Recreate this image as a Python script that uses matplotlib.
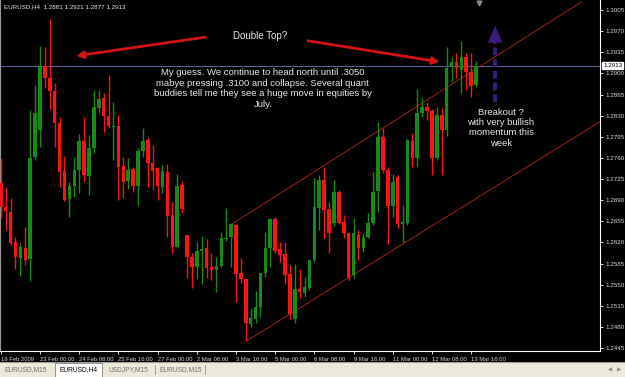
import numpy as np
import matplotlib.pyplot as plt
import matplotlib.transforms as mtransforms
from matplotlib.patches import Rectangle

plt.rcParams['font.family'] = ['Liberation Sans', 'DejaVu Sans']

# ───────── DATA: EURUSD H4, 19 Feb 2009 16:00 .. 13 Mar 2009 20:00 ─────────
opens = [1.2718, 1.2679, 1.2670, 1.2621, 1.2594, 1.2611, 1.2592, 1.2762, 1.2806, 1.2912,
         1.2892, 1.2871, 1.2818, 1.2738, 1.2692, 1.2713, 1.2740, 1.2788, 1.2730, 1.2776,
         1.2843, 1.2859, 1.2829, 1.2811, 1.2813, 1.2747, 1.2722, 1.2742, 1.2713, 1.2771,
         1.2790, 1.2752, 1.2743, 1.2712, 1.2737, 1.2665, 1.2612, 1.2715, 1.2632, 1.2596,
         1.2579, 1.2606, 1.2611, 1.2579, 1.2574, 1.2581, 1.2625, 1.2629, 1.2649, 1.2569,
         1.2559, 1.2485, 1.2493, 1.2513, 1.2569, 1.2611, 1.2659, 1.2609, 1.2601, 1.2568,
         1.2493, 1.2543, 1.2536, 1.2545, 1.2591, 1.2677, 1.2723, 1.2675, 1.2652, 1.2704,
         1.2654, 1.2636, 1.2566, 1.2632, 1.2611, 1.2629, 1.2652, 1.2705, 1.2795, 1.2740,
         1.2680, 1.2728, 1.2650, 1.2652, 1.2788, 1.2760, 1.2834, 1.2844, 1.2838, 1.2760,
         1.2831, 1.2806, 1.2911, 1.2919, 1.2906, 1.2927, 1.2902, 1.2881]
highs = [1.2760, 1.2712, 1.2694, 1.2629, 1.2619, 1.2645, 1.2839, 1.2881, 1.2945, 1.2944,
         1.2990, 1.2884, 1.2828, 1.2763, 1.2720, 1.2762, 1.2800, 1.2828, 1.2798, 1.2873,
         1.2873, 1.2867, 1.2897, 1.2853, 1.2831, 1.2762, 1.2760, 1.2745, 1.2776, 1.2810,
         1.2795, 1.2781, 1.2745, 1.2748, 1.2750, 1.2687, 1.2733, 1.2722, 1.2633, 1.2602,
         1.2621, 1.2631, 1.2626, 1.2602, 1.2596, 1.2637, 1.2677, 1.2652, 1.2650, 1.2594,
         1.2560, 1.2511, 1.2540, 1.2570, 1.2637, 1.2661, 1.2662, 1.2621, 1.2621, 1.2583,
         1.2584, 1.2576, 1.2563, 1.2593, 1.2727, 1.2732, 1.2745, 1.2687, 1.2723, 1.2707,
         1.2665, 1.2637, 1.2660, 1.2640, 1.2636, 1.2669, 1.2737, 1.2820, 1.2810, 1.2745,
         1.2733, 1.2732, 1.2682, 1.2792, 1.2801, 1.2874, 1.2859, 1.2853, 1.2841, 1.2844,
         1.2843, 1.2944, 1.2927, 1.2934, 1.2954, 1.2934, 1.2934, 1.2921]
lows = [1.2660, 1.2640, 1.2616, 1.2576, 1.2564, 1.2583, 1.2556, 1.2756, 1.2778, 1.2876,
        1.2841, 1.2778, 1.2712, 1.2688, 1.2662, 1.2695, 1.2702, 1.2720, 1.2698, 1.2768,
        1.2834, 1.2803, 1.2810, 1.2757, 1.2690, 1.2694, 1.2708, 1.2704, 1.2682, 1.2762,
        1.2712, 1.2707, 1.2690, 1.2702, 1.2629, 1.2602, 1.2611, 1.2669, 1.2561, 1.2544,
        1.2559, 1.2551, 1.2561, 1.2558, 1.2538, 1.2579, 1.2622, 1.2579, 1.2521, 1.2553,
        1.2457, 1.2480, 1.2486, 1.2496, 1.2563, 1.2579, 1.2602, 1.2588, 1.2551, 1.2493,
        1.2486, 1.2528, 1.2530, 1.2541, 1.2588, 1.2640, 1.2627, 1.2602, 1.2647, 1.2650,
        1.2627, 1.2558, 1.2561, 1.2591, 1.2604, 1.2627, 1.2649, 1.2670, 1.2735, 1.2617,
        1.2662, 1.2644, 1.2621, 1.2649, 1.2745, 1.2745, 1.2828, 1.2823, 1.2732, 1.2757,
        1.2732, 1.2796, 1.2886, 1.2892, 1.2867, 1.2873, 1.2861, 1.2877]
closes = [1.2679, 1.2672, 1.2619, 1.2596, 1.2612, 1.2591, 1.2760, 1.2834, 1.2911, 1.2892,
          1.2871, 1.2818, 1.2737, 1.2690, 1.2713, 1.2740, 1.2788, 1.2732, 1.2776, 1.2844,
          1.2858, 1.2829, 1.2813, 1.2813, 1.2745, 1.2720, 1.2740, 1.2713, 1.2771, 1.2788,
          1.2752, 1.2738, 1.2713, 1.2738, 1.2664, 1.2612, 1.2713, 1.2675, 1.2596, 1.2579,
          1.2606, 1.2609, 1.2578, 1.2574, 1.2581, 1.2627, 1.2628, 1.2650, 1.2568, 1.2559,
          1.2486, 1.2495, 1.2513, 1.2569, 1.2611, 1.2659, 1.2606, 1.2599, 1.2566, 1.2501,
          1.2543, 1.2538, 1.2546, 1.2591, 1.2679, 1.2723, 1.2674, 1.2636, 1.2704, 1.2652,
          1.2636, 1.2561, 1.2636, 1.2611, 1.2627, 1.2652, 1.2704, 1.2795, 1.2740, 1.2680,
          1.2720, 1.2650, 1.2654, 1.2789, 1.2760, 1.2834, 1.2844, 1.2838, 1.2760, 1.2831,
          1.2806, 1.2909, 1.2919, 1.2909, 1.2927, 1.2902, 1.2879, 1.2913]

price_ticks = [1.2445, 1.2480, 1.2515, 1.2550, 1.2585, 1.2620, 1.2655, 1.2690, 1.2725,
               1.2760, 1.2795, 1.2830, 1.2865, 1.2900, 1.2935, 1.2970, 1.3005]
time_tick_bars = [0, 8, 16, 24, 32, 40, 48, 56, 64, 72, 80, 88, 96]
time_tick_labels = ['19 Feb 2009', '23 Feb 00:00', '24 Feb 08:00', '25 Feb 16:00',
                    '27 Feb 00:00', '2 Mar 08:00', '3 Mar 16:00', '5 Mar 00:00',
                    '6 Mar 08:00', '9 Mar 16:00', '11 Mar 00:00', '12 Mar 08:00',
                    '13 Mar 16:00']
bid_price = 1.2913

# channel lines: (bar, price) end points
upper_channel = [(47.1, 1.2650), (118.6, 1.3019)]
lower_channel = [(50.2, 1.2457), (122.3, 1.2820)]

tabs = ['EURUSD,M15', 'EURUSD,H4', 'USDJPY,M15', 'EURUSD,M15']
# ──────────────────────────

BULL = '#158c15'
BEAR = '#ff1212'
TXT = '#e8e8e8'
W, H = 625, 377

fig = plt.figure(figsize=(W / 100, H / 100), dpi=100, facecolor='black')
ax = fig.add_axes([0, 1 - 351 / H, 600 / W, 351 / H], facecolor='black')
ax.set_xlim(-0.16, 122.3)
ax.set_ylim(1.24401, 1.30216)

# ─── candles ───
x = np.arange(len(opens))
o, hi, lo, c = map(np.array, (opens, highs, lows, closes))
cols = np.where(c >= o, BULL, BEAR)
ax.vlines(x, lo, hi, colors=cols, lw=1.0, zorder=3)
ax.bar(x, np.maximum(np.abs(c - o), 0.00008), bottom=np.minimum(o, c),
       width=0.72, color=cols, lw=0, zorder=4)

# ─── channel + bid line ───
for line in (upper_channel, lower_channel):
    (x0, y0), (x1, y1) = line
    ax.plot([x0, x1], [y0, y1], color='#b82418', lw=0.6, zorder=2)
ax.axhline(bid_price, color='#5d6d98', lw=0.7, zorder=1)

# ─── axes styling ───
ax.spines['top'].set_visible(False)
ax.spines['left'].set_color('#9a9a9a')
ax.spines['right'].set_color('white')
ax.spines['bottom'].set_color('white')
for s in ('left', 'right', 'bottom'):
    ax.spines[s].set_linewidth(0.8)
ax.yaxis.tick_right()
ax.set_yticks(price_ticks)
ax.set_yticklabels([f'{p:.4f}' for p in price_ticks])
ax.set_xticks(time_tick_bars)
ax.set_xticklabels(time_tick_labels)
ax.tick_params(axis='both', direction='out', length=2.5, width=0.6,
               colors='white', labelcolor='#d8d8d8', pad=1.5)
ax.tick_params(axis='y', labelsize=4.5)
ax.tick_params(axis='x', labelsize=4.2)
for t in ax.get_xticklabels():
    t.set_horizontalalignment('left')

# current price box on the price scale
trans = mtransforms.blended_transform_factory(ax.transAxes, ax.transData)
ax.text(1.005, bid_price, f'{bid_price:.4f}', transform=trans, fontsize=4.5,
        color='black', va='center', ha='left', clip_on=False, zorder=10,
        bbox=dict(facecolor='white', edgecolor='white', pad=0.8))

# header
ax.text(0.006, 1 - 7 / 351,
        f'EURUSD,H4  {opens[-1]:.4f} {highs[-1]:.4f} {lows[-1]:.4f} {closes[-1]:.4f}',
        transform=ax.transAxes, fontsize=4.5, color=TXT, va='center', ha='left')

# chart shift marker
ax.plot([97.6], [1.3017], marker='v', color='#8a8a8a', ms=3.5, zorder=5, clip_on=False)

# ─── annotations ───
arrow_kw = dict(arrowstyle='-|>', color='#d41414', lw=2.0, mutation_scale=10,
                shrinkA=0, shrinkB=0)
ax.annotate('', xy=(15.4, 1.2929), xytext=(41.7, 1.2960), arrowprops=arrow_kw, zorder=6)
ax.annotate('', xy=(89.6, 1.2919), xytext=(62.7, 1.2954), arrowprops=arrow_kw, zorder=6)
ax.text(52.9, 1.2962, 'Double Top?', color=TXT, fontsize=7, ha='center', va='center')
ax.text(53.5, 1.2875,
        'My guess. We continue to head north until .3050\n'
        'mabye pressing .3100 and collapse. Several quant\n'
        'buddies tell me they see a huge move in equities by\n'
        'July.', color=TXT, fontsize=6.8, ha='center', va='center',
        multialignment='center', linespacing=1.2)
ax.text(102.1, 1.2810, 'Breakout ?\nwith very bullish\nmomentum this\nweek',
        color=TXT, fontsize=6.8, ha='center', va='center',
        multialignment='center', linespacing=1.2)

# purple dashed breakout arrow
ax.plot([100.9, 100.9], [1.2852, 1.2953], color='#3c1c7c', lw=2.8,
        dashes=(2.0, 1.0), solid_capstyle='butt', zorder=6)
ax.fill([99.4, 102.4, 100.9], [1.2951, 1.2951, 1.2979], color='#3c1c7c', lw=0, zorder=6)

# ─── tab bar ───
tab_ax = fig.add_axes([0, 0, 1, 15 / H], facecolor='#ece9d8')
tab_ax.set_xlim(0, W)
tab_ax.set_ylim(0, 15)
tab_ax.set_axis_off()
tab_ax.add_patch(Rectangle((0, 0), W, 15, color='#ece9d8', zorder=0))
tab_ax.axhline(14.6, color='#a0a0a0', lw=0.8)
tab_ax.add_patch(Rectangle((55, 0.5), 47, 14, facecolor='white', edgecolor='#808080',
                           lw=0.6, zorder=1))
for name, cx, col in zip(tabs, [26, 78.5, 128, 181], ['#707070', 'black', '#707070', '#707070']):
    tab_ax.text(cx, 7, name, fontsize=4.8, color=col, ha='center', va='center', zorder=2)
for sx in (155, 205):
    tab_ax.plot([sx, sx], [3, 12], color='#909090', lw=0.6)
tab_ax.text(610, 7, '◀', fontsize=4, color='#909090', ha='center', va='center', family='DejaVu Sans')
tab_ax.text(619, 7, '▶', fontsize=4, color='#909090', ha='center', va='center', family='DejaVu Sans')

fig.savefig('out.png', dpi=100, facecolor='black')
